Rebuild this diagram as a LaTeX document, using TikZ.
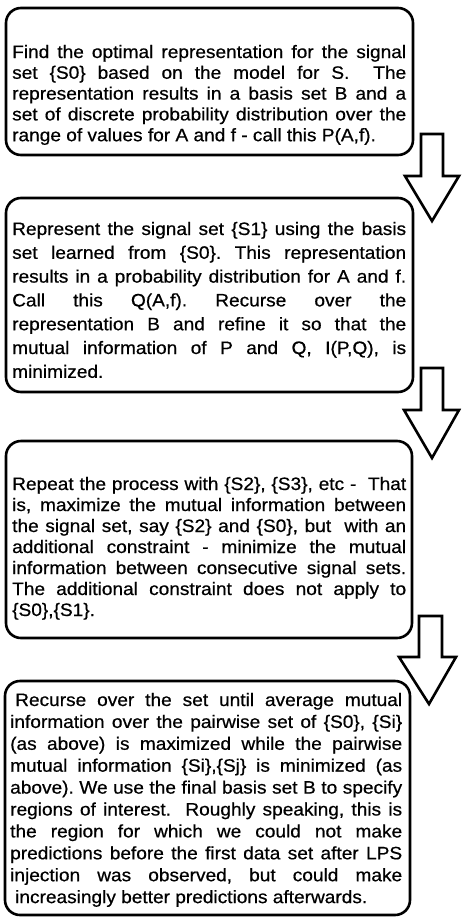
\documentclass[tikz,border=0pt]{standalone}
\usepackage{fontspec}
\setmainfont{Liberation Sans}[FakeStretch=1.06,FakeBold=0.6]
\begin{document}
\begin{tikzpicture}[x=1pt,y=-1pt,
  box/.style={draw=black, line width=2.6pt, rounded corners=15pt, fill=white},
  txt/.style={anchor=base west, inner sep=0pt, text width=394pt, align=justify,
    execute at begin node={\frenchspacing\tolerance=10000\pretolerance=-1\hyphenpenalty=10000\parindent=0pt}},
  blockarrow/.style={draw=black, line width=2.6pt, line join=miter, fill=white}]
\useasboundingbox (0,0) rectangle (461,921);
% boxes
\draw[box] (6,8) rectangle (413,155);
\draw[box] (6,198) rectangle (413,392);
\draw[box] (6,441) rectangle (412,638);
\draw[box] (5,681) rectangle (410,915);
% texts
\node[txt, font=\fontsize{18pt}{20.8pt}\selectfont] (t1) at (12,58) {Find the optimal representation for the signal\linebreak
set \{S0\} based on the model for S.\ \ The\linebreak
representation results in a basis set B and a\linebreak
set of discrete probability distribution over the\linebreak
range of values for A and f - call this P(A,f).};
\node[txt, font=\fontsize{18pt}{23.8pt}\selectfont] (t2) at (12,235) {Represent the signal set \{S1\} using the basis\linebreak
set learned from \{S0\}. This representation\linebreak
results in a probability distribution for A and f.\linebreak
Call this Q(A,f). Recurse over the\linebreak
representation B and refine it so that the\linebreak
mutual information of P and Q, I(P,Q), is\linebreak
minimized.};
\node[txt, font=\fontsize{18pt}{21pt}\selectfont] (t3) at (12,490) {Repeat the process with \{S2\}, \{S3\}, etc -\ \ That\linebreak
is, maximize the mutual information between\linebreak
the signal set, say \{S2\} and \{S0\}, but\ \ with an\linebreak
additional constraint - minimize the mutual\linebreak
information between consecutive signal sets.\linebreak
The additional constraint does not apply to\linebreak
\{S0\},\{S1\}.};
\node[txt, text width=392pt, font=\fontsize{18pt}{21.9pt}\selectfont] (t4) at (10,706) {\hspace*{5pt}Recurse over the set until average mutual\linebreak
information over the pairwise set of \{S0\}, \{Si\}\linebreak
(as above) is maximized while the pairwise\linebreak
mutual information \{Si\},\{Sj\} is minimized (as\linebreak
above). We use the final basis set B to specify\linebreak
regions of interest.\ \ Roughly speaking, this is\linebreak
the region for which we could not make\linebreak
predictions before the first data set after LPS\linebreak
injection was observed, but could make\linebreak
\hspace*{5pt}increasingly better predictions afterwards.};
% block arrows
\draw[blockarrow] (421,134) -- (443,134) -- (443,176) -- (459,176) -- (432,221) -- (405,176) -- (421,176) -- cycle;
\draw[blockarrow] (421,368) -- (443,368) -- (443,410) -- (459,410) -- (432,458) -- (404,410) -- (421,410) -- cycle;
\draw[blockarrow] (419,616) -- (442,616) -- (442,657) -- (456,657) -- (429,704) -- (399,657) -- (419,657) -- cycle;
\end{tikzpicture}
\end{document}
